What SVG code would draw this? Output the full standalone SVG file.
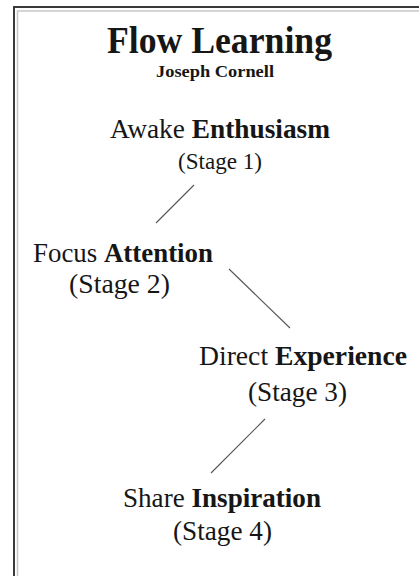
<svg xmlns="http://www.w3.org/2000/svg" width="419" height="576" viewBox="0 0 419 576">
<style>
  text { font-family: "Liberation Serif", "Times New Roman", serif; fill: #161616; }
  .b { font-weight: bold; }
  .conn line { stroke: #555; stroke-width: 1.1; }
  .frame { stroke: #3a3a3a; stroke-width: 2; fill: none; }
  .shade { stroke: #c8c8c8; stroke-width: 1.5; fill: none; }
</style>
<rect width="419" height="576" fill="#ffffff"/>
<g id="frame">
  <path class="shade" d="M17.5,576 V11 H419"/>
  <path class="frame" d="M14,576 V7 H419"/>
</g>
<g id="title">
  <text class="b" x="107" y="53" font-size="38" textLength="225" lengthAdjust="spacingAndGlyphs">Flow Learning</text>
  <text class="b" x="156" y="77" font-size="16" textLength="118" lengthAdjust="spacingAndGlyphs">Joseph Cornell</text>
</g>
<g id="stage1">
  <text x="110" y="138" font-size="27" textLength="220" lengthAdjust="spacingAndGlyphs">Awake <tspan class="b">Enthusiasm</tspan></text>
  <text x="178" y="169" font-size="24" textLength="84" lengthAdjust="spacingAndGlyphs">(Stage 1)</text>
</g>
<g id="stage2">
  <text x="33" y="262" font-size="28" textLength="180" lengthAdjust="spacingAndGlyphs">Focus <tspan class="b">Attention</tspan></text>
  <text x="69" y="293" font-size="28" textLength="101" lengthAdjust="spacingAndGlyphs">(Stage 2)</text>
</g>
<g id="stage3">
  <text x="199" y="365" font-size="28" textLength="208" lengthAdjust="spacingAndGlyphs">Direct <tspan class="b">Experience</tspan></text>
  <text x="248" y="401" font-size="28" textLength="99" lengthAdjust="spacingAndGlyphs">(Stage 3)</text>
</g>
<g id="stage4">
  <text x="123" y="507" font-size="28" textLength="198" lengthAdjust="spacingAndGlyphs">Share <tspan class="b">Inspiration</tspan></text>
  <text x="173" y="540" font-size="28" textLength="99" lengthAdjust="spacingAndGlyphs">(Stage 4)</text>
</g>
<g class="conn" id="connectors">
  <line x1="194" y1="185" x2="156" y2="223"/>
  <line x1="229" y1="269" x2="290" y2="328"/>
  <line x1="265" y1="419" x2="211" y2="473"/>
</g>
</svg>
